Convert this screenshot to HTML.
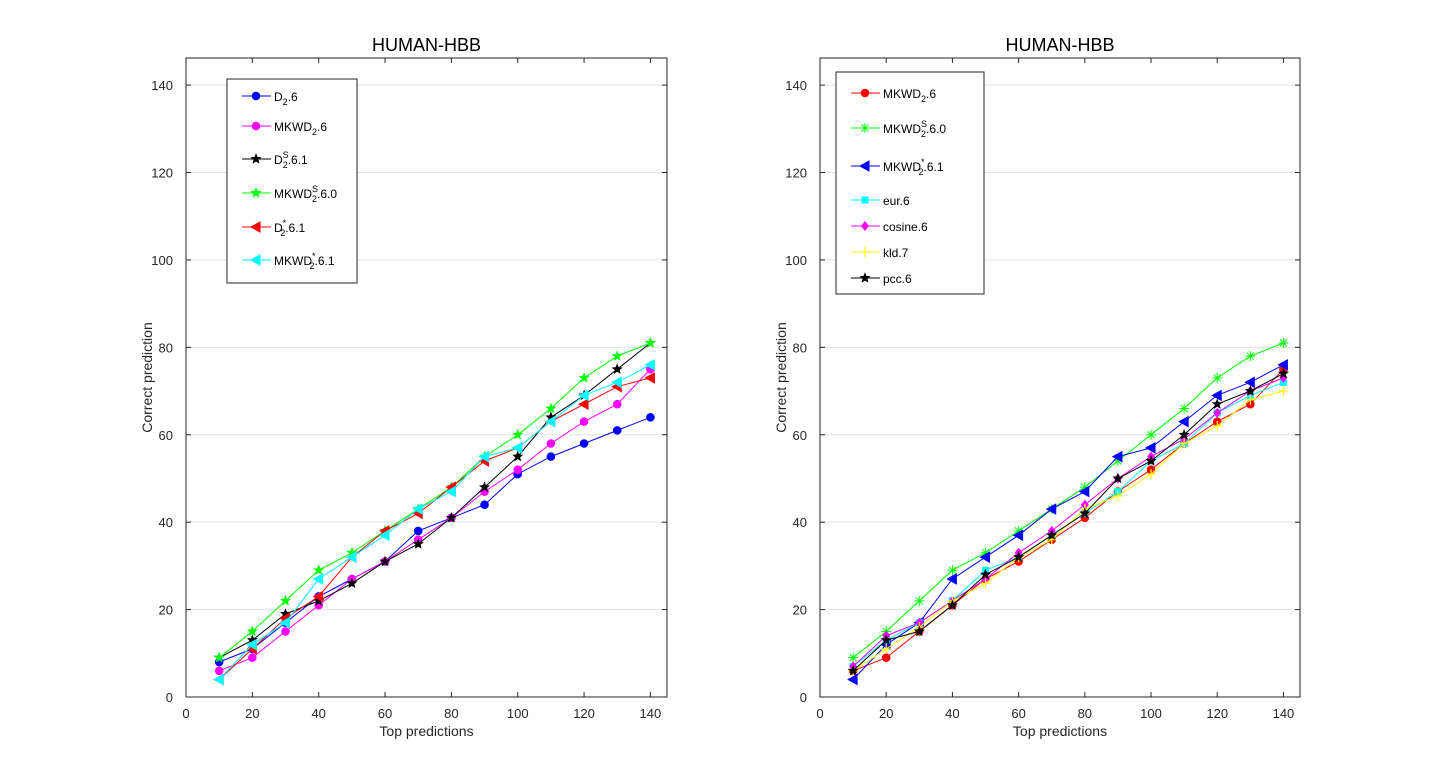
<!DOCTYPE html>
<html><head><meta charset="utf-8"><style>
body{margin:0;background:#fff;}
svg{display:block;font-family:"Liberation Sans",Arial,sans-serif;}
</style></head><body>
<svg id="s" width="1440" height="782"></svg>
<script>
const xTicks=[0,20,40,60,80,100,120,140];
const yTicks=[0,20,40,60,80,100,120,140];
const xCats=[10,20,30,40,50,60,70,80,90,100,110,120,130,140];
const L_D2=[8,11,17,23,27,31,38,41,44,51,55,58,61,64];
const L_MKWD2=[6,9,15,21,27,31,36,41,47,52,58,63,67,75];
const L_D2S=[9,13,19,22,26,31,35,41,48,55,64,69,75,81];
const L_MKWD2S=[9,15,22,29,33,38,43,48,55,60,66,73,78,81];
const L_D2star=[4,11,18,23,32,38,42,48,54,57,63,67,71,73];
const L_MKWD2star=[4,12,17,27,32,37,43,47,55,57,63,69,72,76];
const R_MKWD2=[6,9,15,21,27,31,36,41,47,52,58,63,67,75];
const R_MKWD2S=[9,15,22,29,33,38,43,48,54,60,66,73,78,81];
const R_MKWD2star=[4,12,17,27,32,37,43,47,55,57,63,69,72,76];
const R_eur=[7,13,17,22,29,32,37,42,47,54,58,65,69,72];
const R_cosine=[7,14,17,22,27,33,38,44,50,55,59,65,70,73];
const R_kld=[6,11,16,22,26,32,36,43,46,51,58,62,68,70];
const R_pcc=[6,13,15,21,28,32,37,42,50,54,60,67,70,74];

const NS="http://www.w3.org/2000/svg";
const svg=document.getElementById('s');
function mk(tag,attrs,parent){const e=document.createElementNS(NS,tag);for(const k in attrs)e.setAttribute(k,attrs[k]);(parent||svg).appendChild(e);return e;}

function marker(g,type,x,y,c){
  let e;
  if(type==='o'){e=mk('circle',{cx:x,cy:y,r:3.8,fill:c,stroke:c},g);}
  else if(type==='p'){let pts=[];for(let i=0;i<10;i++){const r=i%2?2.2:5;const a=-Math.PI/2+i*Math.PI/5;pts.push((x+r*Math.cos(a)).toFixed(1)+','+(y+r*Math.sin(a)).toFixed(1));}
    e=mk('polygon',{points:pts.join(' '),fill:c,stroke:c,'stroke-width':0.6},g);}
  else if(type==='<'){e=mk('polygon',{points:`${x-5},${y} ${x+4},${y-5} ${x+4},${y+5}`,fill:c,stroke:c},g);}
  else if(type==='s'){e=mk('rect',{x:x-3.5,y:y-3.5,width:7,height:7,fill:c},g);}
  else if(type==='d'){e=mk('polygon',{points:`${x},${y-5} ${x+4},${y} ${x},${y+5} ${x-4},${y}`,fill:c},g);}
  else if(type==='+'){e=mk('path',{d:`M${x-5} ${y}H${x+5}M${x} ${y-5}V${y+5}`,stroke:c,'stroke-width':1.2,fill:'none'},g);}
  else if(type==='*'){e=mk('path',{d:`M${x-5} ${y}H${x+5}M${x} ${y-5}V${y+5}M${x-3.5} ${y-3.5}L${x+3.5} ${y+3.5}M${x-3.5} ${y+3.5}L${x+3.5} ${y-3.5}`,stroke:c,'stroke-width':1,fill:'none'},g);}
  
  
}

function axes(name,x0,x1,series,legend){
  const yb=697,yt=58,xmax=145,ymax=146.2;
  const sx=v=>x0+(x1-x0)*v/xmax, sy=v=>yb-(yb-yt)*v/ymax;
  const g=mk('g',{});
  
  
  yTicks.forEach(t=>{
    const gl=mk('line',{x1:x0,x2:x1,y1:sy(t),y2:sy(t),stroke:'#e3e3e3','stroke-width':1},g);
    
  });
  const box=mk('rect',{x:x0,y:yt,width:x1-x0,height:yb-yt,fill:'none',stroke:'#262626','stroke-width':1},g);
  
  xTicks.forEach(t=>{
    mk('line',{x1:sx(t),x2:sx(t),y1:yb,y2:yb-5,stroke:'#262626'},g);
    mk('line',{x1:sx(t),x2:sx(t),y1:yt,y2:yt+5,stroke:'#262626'},g);
    const tx=mk('text',{x:sx(t),y:yb+21,'text-anchor':'middle','font-size':13,fill:'#262626'},g);tx.textContent=t;
    
  });
  yTicks.forEach(t=>{
    mk('line',{x1:x0,x2:x0+5,y1:sy(t),y2:sy(t),stroke:'#262626'},g);
    mk('line',{x1:x1,x2:x1-5,y1:sy(t),y2:sy(t),stroke:'#262626'},g);
    const tx=mk('text',{x:x0-13,y:sy(t)+5,'text-anchor':'end','font-size':13,fill:'#262626'},g);tx.textContent=t;
    
  });
  const ti=mk('text',{x:(x0+x1)/2,y:51,'text-anchor':'middle','font-size':18,fill:'#000'},g);ti.textContent='HUMAN-HBB';
  
  const xl=mk('text',{x:(x0+x1)/2,y:736,'text-anchor':'middle','font-size':14,fill:'#262626'},g);xl.textContent='Top predictions';
  
  const yl=mk('text',{x:0,y:0,transform:`translate(${x0-34},${(yb+yt)/2}) rotate(-90)`,'text-anchor':'middle','font-size':14,fill:'#262626'},g);yl.textContent='Correct prediction';
  
  series.forEach(s=>{
    const sg=mk('g',{},g);
    
    const d=s.v.map((v,i)=>(i?'L':'M')+sx(xCats[i]).toFixed(1)+' '+sy(v).toFixed(1)).join('');
    mk('path',{d:d,fill:'none',stroke:s.c,'stroke-width':1},sg);
    s.v.forEach((v,i)=>marker(sg,s.m,sx(xCats[i]),sy(v),s.c));
  });
  // legend
  const lg=mk('g',{},g);
  
  mk('rect',{x:legend.x,y:legend.y,width:legend.w,height:legend.h,fill:'#fff',stroke:'#262626'},lg);
  series.forEach((s,i)=>{
    const ey=legend.ys[i];
    const eg=mk('g',{},lg);
    
    mk('line',{x1:legend.x+15,x2:legend.x+44,y1:ey,y2:ey,stroke:s.c},eg);
    marker(eg,s.m,legend.x+29,ey,s.c);
    const t=mk('text',{x:legend.x+47,y:ey+5,'font-size':12,fill:'#000'},eg);
    t.innerHTML=s.label;
  });
}
const sub='<tspan dy="4" font-size="9">2</tspan><tspan dy="-4">';
function lab(pre,sup,post){return pre+(sup?'<tspan dy="-6" font-size="9">'+sup+'</tspan><tspan dx="-6" dy="10" font-size="9">2</tspan><tspan dy="-4">':sub)+post+'</tspan>';}

axes('left-chart',186,667,[
 {id:'d2-6',v:L_D2,c:'#0000ff',m:'o',label:lab('D','','.6')},
 {id:'mkwd2-6',v:L_MKWD2,c:'#ff00ff',m:'o',label:lab('MKWD','','.6')},
 {id:'d2s-6-1',v:L_D2S,c:'#000000',m:'p',label:lab('D','S','.6.1')},
 {id:'mkwd2s-6-0',v:L_MKWD2S,c:'#00ff00',m:'p',label:lab('MKWD','S','.6.0')},
 {id:'d2star-6-1',v:L_D2star,c:'#ff0000',m:'<',label:lab('D','*','.6.1')},
 {id:'mkwd2star-6-1',v:L_MKWD2star,c:'#00ffff',m:'<',label:lab('MKWD','*','.6.1')}
],{x:227,y:79,w:130,h:204,ys:[96,126,159,193,227,260]});

axes('right-chart',820,1300,[
 {id:'mkwd2-6',v:R_MKWD2,c:'#ff0000',m:'o',label:lab('MKWD','','.6')},
 {id:'mkwd2s-6-0',v:R_MKWD2S,c:'#00ff00',m:'*',label:lab('MKWD','S','.6.0')},
 {id:'mkwd2star-6-1',v:R_MKWD2star,c:'#0000ff',m:'<',label:lab('MKWD','*','.6.1')},
 {id:'eur-6',v:R_eur,c:'#00ffff',m:'s',label:'eur.6'},
 {id:'cosine-6',v:R_cosine,c:'#ff00ff',m:'d',label:'cosine.6'},
 {id:'kld-7',v:R_kld,c:'#ffff00',m:'+',label:'kld.7'},
 {id:'pcc-6',v:R_pcc,c:'#000000',m:'p',label:'pcc.6'}
],{x:836,y:72,w:148,h:222,ys:[93,128,166,200,226,252,278]});
</script>
</body></html>
